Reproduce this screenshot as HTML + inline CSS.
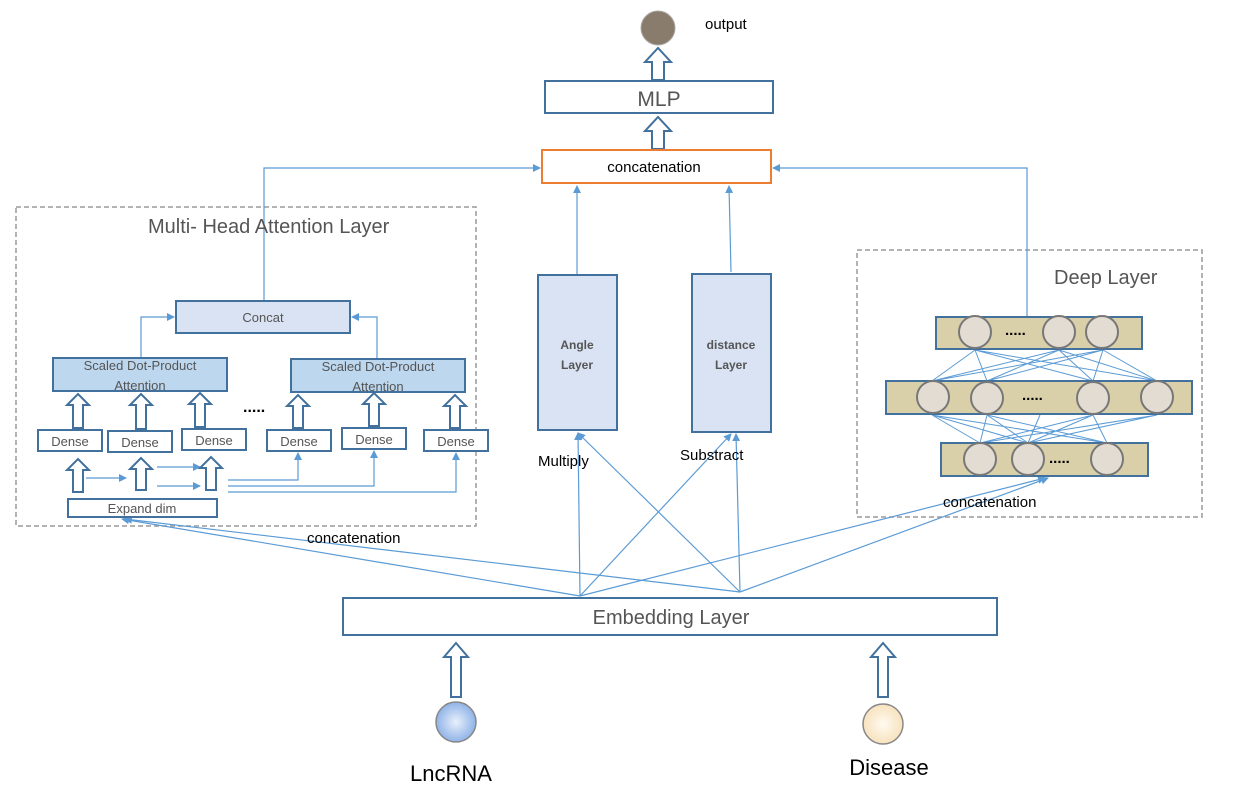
<!DOCTYPE html><html><head><style>body{margin:0;background:#fff}svg{display:block}text{font-family:"Liberation Sans",sans-serif}</style></head><body>
<svg width="1238" height="802" viewBox="0 0 1238 802">
<defs>
<marker id="a" markerWidth="8" markerHeight="8" refX="7" refY="4" orient="auto" markerUnits="userSpaceOnUse"><path d="M0,0 L8,4 L0,8z" fill="#5b9bd5"/></marker>
<radialGradient id="b"><stop offset="0" stop-color="#e8f0fb"/><stop offset="1" stop-color="#8fb3e8"/></radialGradient>
<radialGradient id="c"><stop offset="0" stop-color="#fffaf0"/><stop offset="1" stop-color="#f7e2bd"/></radialGradient>
</defs>
<g fill="none" stroke="#9a9a9a" stroke-width="1.5" stroke-dasharray="5,3">
<rect x="16" y="207" width="460" height="319"/><rect x="857" y="250" width="345" height="267"/></g>
<!-- top -->
<circle cx="658" cy="28" r="17" fill="#8a7c6c" stroke="#aaa"/>
<text x="705" y="29" font-size="15">output</text>
<g fill="#fff" stroke="#41719c" stroke-width="2">
<rect x="545" y="81" width="228" height="32"/>
<polygon points="652,80 652,62 645,62 658,48 671,62 664,62 664,80"/>
<polygon points="652,149 652,131 645,131 658,117 671,131 664,131 664,149"/>
</g>
<text x="659" y="106" font-size="21" fill="#555" text-anchor="middle">MLP</text>
<rect x="542" y="150" width="229" height="33" fill="#fff" stroke="#ed7d31" stroke-width="2"/>
<text x="654" y="172" font-size="15" text-anchor="middle">concatenation</text>
<g stroke="#5b9bd5" stroke-width="1.2" fill="none" marker-end="url(#a)">
<polyline points="264,301 264,168 540,168"/>
<polyline points="1027,318 1027,168 773,168"/>
<line x1="577" y1="275" x2="577" y2="186"/>
<line x1="731" y1="272" x2="729" y2="186"/>
<line x1="580" y1="596" x2="578" y2="433"/>
<line x1="580" y1="596" x2="731" y2="434"/>
<line x1="580" y1="596" x2="122" y2="519"/>
<line x1="580" y1="596" x2="1045" y2="478"/>
<line x1="740" y1="592" x2="578" y2="433"/>
<line x1="740" y1="592" x2="736" y2="434"/>
<line x1="740" y1="592" x2="125" y2="519"/>
<line x1="740" y1="592" x2="1048" y2="478"/>
<polyline points="141,358 141,317 174,317"/>
<polyline points="377,359 377,317 352,317"/>
<line x1="86" y1="478" x2="126" y2="478"/>
<line x1="157" y1="467" x2="200" y2="467"/>
<line x1="157" y1="486" x2="200" y2="486"/>
<polyline points="228,480 298,480 298,453"/>
<polyline points="228,486 374,486 374,451"/>
<polyline points="228,492 456,492 456,453"/>
</g>
<!-- middle layers -->
<g fill="#dae3f3" stroke="#41719c" stroke-width="2">
<rect x="538" y="275" width="79" height="155"/><rect x="692" y="274" width="79" height="158"/>
<rect x="176" y="301" width="174" height="32"/></g>
<text x="577" y="349" font-size="12" font-weight="bold" fill="#555" text-anchor="middle">Angle</text>
<text x="577" y="369" font-size="12" font-weight="bold" fill="#555" text-anchor="middle">Layer</text>
<text x="731" y="349" font-size="12" font-weight="bold" fill="#555" text-anchor="middle">distance</text>
<text x="731" y="369" font-size="12" font-weight="bold" fill="#555" text-anchor="middle">Layer</text>
<text x="538" y="466" font-size="15">Multiply</text>
<text x="680" y="460" font-size="15">Substract</text>
<text x="263" y="322" font-size="13" fill="#555" text-anchor="middle">Concat</text>
<text x="148" y="233" font-size="20" fill="#555">Multi- Head Attention Layer</text>
<g fill="#bdd7ee" stroke="#41719c" stroke-width="2">
<rect x="53" y="358" width="174" height="33"/><rect x="291" y="359" width="174" height="33"/></g>
<g font-size="13" fill="#555" text-anchor="middle">
<text x="140" y="370">Scaled Dot-Product</text><text x="140" y="390">Attention</text>
<text x="378" y="371">Scaled Dot-Product</text><text x="378" y="391">Attention</text></g>
<g fill="#fff" stroke="#41719c" stroke-width="2">
<rect x="38" y="430" width="64" height="21"/><rect x="108" y="431" width="64" height="21"/><rect x="182" y="429" width="64" height="21"/>
<rect x="267" y="430" width="64" height="21"/><rect x="342" y="428" width="64" height="21"/><rect x="424" y="430" width="64" height="21"/>
<rect x="68" y="499" width="149" height="18"/>
<polygon points="73,428 73,405 67,405 78,394 89,405 83,405 83,428"/>
<polygon points="136,429 136,405 130,405 141,394 152,405 146,405 146,429"/>
<polygon points="195,427 195,404 189,404 200,393 211,404 205,404 205,427"/>
<polygon points="293,428 293,406 287,406 298,395 309,406 303,406 303,428"/>
<polygon points="369,426 369,404 363,404 374,393 385,404 379,404 379,426"/>
<polygon points="450,428 450,406 444,406 455,395 466,406 460,406 460,428"/>
<polygon points="73,492 73,470 67,470 78,459 89,470 83,470 83,492"/>
<polygon points="136,490 136,469 130,469 141,458 152,469 146,469 146,490"/>
<polygon points="206,490 206,468 200,468 211,457 222,468 216,468 216,490"/>
<polygon points="451,697 451,657 444,657 456,643 468,657 461,657 461,697"/>
<polygon points="878,697 878,657 871,657 883,643 895,657 888,657 888,697"/>
</g>
<g font-size="13" fill="#555" text-anchor="middle">
<text x="70" y="446">Dense</text><text x="140" y="447">Dense</text><text x="214" y="445">Dense</text>
<text x="299" y="446">Dense</text><text x="374" y="444">Dense</text><text x="456" y="446">Dense</text>
<text x="142" y="513">Expand dim</text></g>
<text x="243" y="412" font-size="16" font-weight="bold">.....</text>
<text x="307" y="543" font-size="15">concatenation</text>
<!-- deep -->
<text x="1054" y="284" font-size="20" fill="#555">Deep Layer</text>
<g stroke="#5b9bd5" stroke-width="1">
<path d="M975,350 L932,381 M975,350 L987,381 M975,350 L1093,381 M975,350 L1157,381 M1059,350 L932,381 M1059,350 L987,381 M1059,350 L1093,381 M1059,350 L1157,381 M1103,350 L932,381 M1103,350 L987,381 M1103,350 L1093,381 M1103,350 L1157,381"/>
<path d="M932,415 L980,443 M932,415 L1028,443 M932,415 L1107,443 M987,415 L980,443 M987,415 L1028,443 M987,415 L1107,443 M1040,415 L1028,443 M1093,415 L980,443 M1093,415 L1028,443 M1093,415 L1107,443 M1157,415 L980,443 M1157,415 L1028,443"/></g>
<g fill="#d9cfa9" stroke="#41719c" stroke-width="2">
<rect x="936" y="317" width="206" height="32"/><rect x="886" y="381" width="306" height="33"/><rect x="941" y="443" width="207" height="33"/></g>
<g fill="#e3dcd2" stroke="#777" stroke-width="2">
<circle cx="975" cy="332" r="16"/><circle cx="1059" cy="332" r="16"/><circle cx="1102" cy="332" r="16"/>
<circle cx="933" cy="397" r="16"/><circle cx="987" cy="398" r="16"/><circle cx="1093" cy="398" r="16"/><circle cx="1157" cy="397" r="16"/>
<circle cx="980" cy="459" r="16"/><circle cx="1028" cy="459" r="16"/><circle cx="1107" cy="459" r="16"/></g>
<g font-size="15" font-weight="bold"><text x="1005" y="335">.....</text><text x="1022" y="400">.....</text><text x="1049" y="463">.....</text></g>
<text x="943" y="507" font-size="15">concatenation</text>
<!-- bottom -->
<rect x="343" y="598" width="654" height="37" fill="#fff" stroke="#41719c" stroke-width="2"/>
<text x="671" y="624" font-size="20" fill="#555" text-anchor="middle">Embedding Layer</text>
<circle cx="456" cy="722" r="20" fill="url(#b)" stroke="#888" stroke-width="1.5"/>
<circle cx="883" cy="724" r="20" fill="url(#c)" stroke="#888" stroke-width="1.5"/>
<text x="451" y="781" font-size="22" text-anchor="middle">LncRNA</text>
<text x="889" y="775" font-size="22" text-anchor="middle">Disease</text>
</svg></body></html>
